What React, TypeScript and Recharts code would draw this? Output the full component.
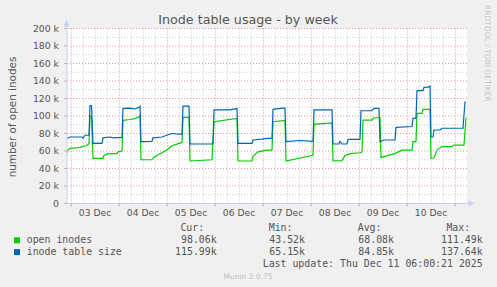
import React from "react";
import { LineChart, Line, XAxis, YAxis, CartesianGrid, ReferenceLine } from "recharts";

// hours since start of the graph (Dec 2, 22:00) -> thousands of inodes
const sizeHours = [
  0, 1.5, 7.5, 8, 9, 11, 11.5, 12.25, 13, 17.5, 18, 21.5, 23, 27.5, 28, 31.5, 34, 36, 36.5, 37,
  42.5, 43, 47.5, 52.5, 57.5, 58, 61, 61.5, 73, 73.5, 81.5, 85, 85.5, 92.5, 93, 97.5, 100, 102.5,
  103, 107.5, 109, 109.5, 116.5, 123, 123.5, 132.5, 133, 136, 136.5, 137.5, 140, 140.5, 146.5, 147,
  152.5, 153.5, 156, 156.5, 158.5, 164, 164.5, 172.5, 173, 174.5, 175, 178, 178.5, 180.5, 181.5,
  182, 183, 183.5, 186.5, 187.5, 198, 199, 199.5,
];
const sizeValues = [
  74.5, 76, 76, 74.5, 78, 78, 112, 112, 68.8, 68.8, 75, 76, 75, 75.5, 108.8, 109, 108, 110, 111, 70.7,
  71, 75, 76, 80, 79, 111.4, 111.4, 68, 68, 107, 107, 108.5, 68.8, 68.8, 72.6, 73.5, 74.5, 74.5,
  107.6, 109, 109, 70.7, 72, 71, 107, 107, 68, 68, 71, 68, 68, 73.3, 73.3, 106,
  106, 108.8, 108.8, 70.7, 72.6, 72.6, 87, 88, 97.3, 97.3, 129, 129, 132.8, 133, 134,
  76, 76, 84, 84, 86, 86, 116, 116,
];

const openHours = [
  0, 0.5, 1.5, 6.5, 7.5, 9.5, 11, 11.5, 12.25, 13, 18, 18.5, 20.5, 25, 25.5, 27.5, 28, 31.5, 34, 36,
  36.5, 37, 42.5, 43.5, 47.5, 50.5, 52.5, 56.5, 57.5, 58, 61, 61.5, 72.5, 73.5, 85, 85.5, 92.5, 93,
  95.5, 100, 102.5, 103, 109, 109.5, 116.5, 123, 123.5, 132.5, 133, 137.5, 139, 141.5, 146.5, 147.5,
  148, 152.5, 153.5, 156.5, 157, 160.5, 164, 167.5, 172.5, 173, 174.5, 175, 177.5, 178, 181.5, 182,
  183.5, 185, 187.5, 192.5, 193.5, 198.5, 199.5,
];
const openValues = [
  58, 61, 63, 64, 65, 66, 68, 100, 100, 51.6, 51.6, 55, 57, 57, 59, 60, 95, 96, 97, 99,
  100.5, 50, 50, 53, 58, 62, 66, 69, 70, 98.5, 98.5, 48.6, 50, 93.5, 97.3, 48.6, 48.6, 54,
  59, 61, 61, 93.5, 95, 48.6, 52, 55, 90.5, 92, 48.6, 49, 55, 57, 58, 59,
  95.4, 95.4, 98, 98, 52.4, 55, 57, 61, 61, 70.7, 70.7, 103, 103, 107.6, 107.6, 51.6,
  52, 61, 65, 65, 66.8, 66.8, 98,
];

const dayLabels = ["03 Dec", "04 Dec", "05 Dec", "06 Dec", "07 Dec", "08 Dec", "09 Dec", "10 Dec"];
const yTicks = [0, 20, 40, 60, 80, 100, 120, 140, 160, 180, 200];

const legendRows = [
  { name: "open inodes", color: "#00cc00", cur: "98.06k", min: "43.52k", avg: "68.08k", max: "111.49k" },
  { name: "inode table size", color: "#0066b3", cur: "115.99k", min: "65.15k", avg: "84.85k", max: "137.64k" },
];

const sizeData = sizeHours.map((h, i) => ({ h, v: sizeValues[i] }));
const openData = openHours.map((h, i) => ({ h, v: openValues[i] }));

const midnights = dayLabels.map((_, i) => 2 + 24 * i).concat([194]);
const noons = dayLabels.map((_, i) => 14 + 24 * i);
const minorX: number[] = [];
for (let h = 2; h <= 200; h += 6) if (!midnights.includes(h)) minorX.push(h);
const minorY = [10, 30, 50, 70, 90, 110, 130, 150, 170, 190];

const AXIS = "#c6cff5";
const TEXT = "#555";
const SANS = "'DejaVu Sans', sans-serif";
const MONO = "'DejaVu Sans Mono', monospace";

const XTick = (props: any) => {
  const { x, y, payload } = props;
  const i = noons.indexOf(payload.value);
  if (i >= 0) {
    return (
      <text x={x} y={y + 12.5} textAnchor="middle" fontSize={9.2} fill={TEXT} fontFamily={SANS}>
        {dayLabels[i]}
      </text>
    );
  }
  return <line x1={x} x2={x} y1={y} y2={y + 3} stroke="#aaa" />;
};

export default function App() {
  const colRight = [216.7, 305, 394, 482.7];
  const heads = ["Cur:", "Min:", "Avg:", "Max:"];
  return (
    <div style={{ position: "absolute", left: 0, top: 0, width: 497, height: 287, background: "#f0f0f0" }}>
      <LineChart width={497} height={287} margin={{ top: 28.5, right: 30, bottom: 0, left: 0 }}>
        <CartesianGrid fill="#ffffff" stroke="none" horizontal={false} vertical={false} />
        <XAxis
          type="number"
          dataKey="h"
          domain={[0, 200]}
          ticks={[...midnights, ...noons].sort((a, b) => a - b)}
          interval={0}
          height={83.5}
          tickSize={0}
          tickMargin={0}
          tickLine={false}
          axisLine={{ stroke: AXIS }}
          tick={XTick}
        />
        <YAxis
          type="number"
          domain={[0, 200]}
          ticks={yTicks}
          interval={0}
          width={67}
          tickSize={3}
          tickMargin={5}
          tickLine={{ stroke: "#bbb" }}
          axisLine={{ stroke: AXIS }}
          tickFormatter={(v: number) => (v === 0 ? "0" : `${v} k`)}
          tick={{ fontSize: 9.3, fill: TEXT, fontFamily: SANS }}
        />
        {minorY.map((v) => (
          <ReferenceLine key={`my${v}`} y={v} stroke="#c8c8c8" strokeDasharray="1 2" />
        ))}
        {minorX.map((h) => (
          <ReferenceLine key={`mx${h}`} x={h + 0.25} stroke="#c8c8c8" strokeDasharray="1 2" />
        ))}
        {yTicks.slice(1).map((v) => (
          <ReferenceLine key={`My${v}`} y={v} stroke="#e89494" strokeDasharray="1 2" />
        ))}
        {midnights.map((h) => (
          <ReferenceLine key={`Mx${h}`} x={h + 0.25} stroke="#e89494" strokeDasharray="1 2" />
        ))}
        <Line
          data={openData}
          dataKey="v"
          type="linear"
          stroke="#00cc00"
          strokeWidth={1.2}
          dot={false}
          isAnimationActive={false}
        />
        <Line
          data={sizeData}
          dataKey="v"
          type="linear"
          stroke="#0066b3"
          strokeWidth={1.2}
          dot={false}
          isAnimationActive={false}
        />
      </LineChart>
      <svg
        width={497}
        height={287}
        style={{ position: "absolute", left: 0, top: 0, pointerEvents: "none" }}
      >
        {/* axis arrows */}
        <line x1={66.5} x2={66.5} y1={26} y2={28.5} stroke={AXIS} />
        <polygon points="63.5,26.5 69.5,26.5 66.5,20" fill={AXIS} />
        <line x1={467} x2={469} y1={203.5} y2={203.5} stroke={AXIS} />
        <polygon points="468.5,200.5 468.5,206.5 474.5,203.5" fill={AXIS} />

        <text x={248} y={24} textAnchor="middle" fontSize={12.7} fill={TEXT} fontFamily={SANS}>
          Inode table usage - by week
        </text>
        <text
          x={11.5}
          y={117}
          textAnchor="middle"
          dominantBaseline="central"
          fontSize={10.4}
          fill={TEXT}
          fontFamily={SANS}
          transform="rotate(-90 11.5 117)"
        >
          number of open inodes
        </text>
        <text
          x={487.7}
          y={5}
          dominantBaseline="central"
          fontSize={7.5}
          fill="#c8c8c8"
          fontFamily={SANS}
          transform="rotate(90 487.7 5)"
        >
          RRDTOOL / TOBI OETIKER
        </text>

        {heads.map((t, i) => (
          <text key={t} x={colRight[i] - 12.5} y={230.5} textAnchor="end" fontSize={9.9} fill={TEXT} fontFamily={MONO}>
            {t}
          </text>
        ))}
        {legendRows.map((r, j) => (
          <g key={r.name}>
            <rect x={14} y={237.3 + j * 11.8} width={6} height={6} fill={r.color} />
            <text x={26.7} y={243.2 + j * 11.8} fontSize={9.9} fill={TEXT} fontFamily={MONO}>
              {r.name}
            </text>
            {[r.cur, r.min, r.avg, r.max].map((v, i) => (
              <text key={i} x={colRight[i]} y={243.2 + j * 11.8} textAnchor="end" fontSize={9.9} fill={TEXT} fontFamily={MONO}>
                {v}
              </text>
            ))}
          </g>
        ))}
        <text x={482.7} y={266.7} textAnchor="end" fontSize={9.9} fill={TEXT} fontFamily={MONO}>
          Last update: Thu Dec 11 06:00:21 2025
        </text>
        <text x={248} y={279} textAnchor="middle" fontSize={7.5} fill="#c0c0c0" fontFamily={SANS}>
          Munin 2.0.75
        </text>
      </svg>
    </div>
  );
}
